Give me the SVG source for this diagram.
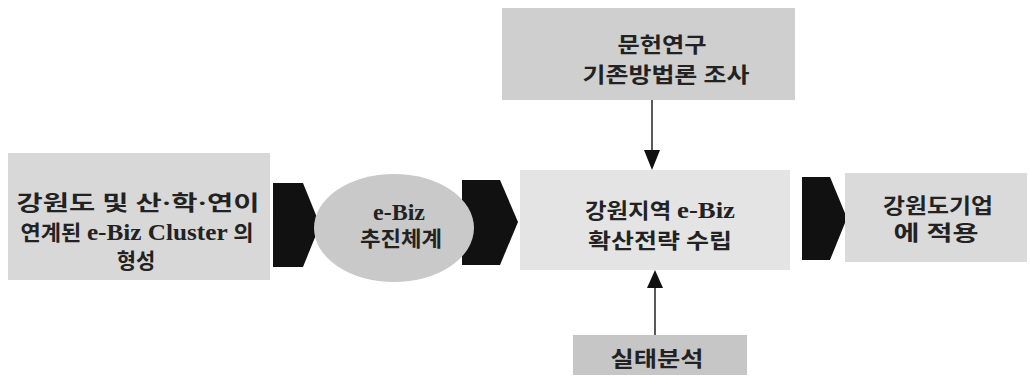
<svg xmlns="http://www.w3.org/2000/svg" width="1030" height="380" viewBox="0 0 1030 380">
<style>
.t{font-family:"Liberation Serif","Noto Sans CJK KR",serif;font-weight:bold;fill:#222;text-anchor:middle;font-size:21px}
.l{font-size:24px}
.c{fill:#111}
.ln{stroke:#222;stroke-width:1.5;fill:none}
</style>
<rect width="1030" height="380" fill="#fff"/>
<g id="connectors">
<polygon class="c" points="273,183 303,183 320,225 303,267 273,267"/>
<polygon class="c" points="462,180 500,180 518,222 500,265 462,265"/>
<polygon class="c" points="802,177 830,177 847,218 830,260 802,260"/>
<line class="ln" x1="652" y1="100" x2="652" y2="150"/>
<polygon class="c" points="644,150 660,150 652,170"/>
<line class="ln" x1="655" y1="335" x2="655" y2="288"/>
<polygon class="c" points="647,288 663,288 655,270"/>
</g>
<g id="cluster">
<rect x="8" y="153" width="262" height="127" fill="#d8d8d8"/>
<text class="t" x="138" y="210" textLength="243" lengthAdjust="spacingAndGlyphs">강원도 및 산·학·연이</text>
<text class="t" x="137" y="240" textLength="233" lengthAdjust="spacingAndGlyphs">연계된 <tspan class="l">e-Biz Cluster</tspan> 의</text>
<text class="t" x="136" y="268">형성</text>
</g>
<g id="ebiz">
<ellipse cx="394" cy="228" rx="80" ry="54" fill="#c9c9c9"/>
<text class="t l" x="399" y="220">e-Biz</text>
<text class="t" x="401" y="246" textLength="82" lengthAdjust="spacingAndGlyphs">추진체계</text>
</g>
<g id="research">
<rect x="502" y="8" width="293" height="92" fill="#cfcfcf"/>
<text class="t" x="662" y="52" textLength="89" lengthAdjust="spacingAndGlyphs">문헌연구</text>
<text class="t" x="666" y="82" textLength="167" lengthAdjust="spacingAndGlyphs">기존방법론 조사</text>
</g>
<g id="strategy">
<rect x="520" y="170" width="270" height="100" fill="#e4e4e4"/>
<text class="t" x="660" y="218" textLength="150" lengthAdjust="spacingAndGlyphs">강원지역 <tspan class="l">e-Biz</tspan></text>
<text class="t" x="660" y="248" textLength="144" lengthAdjust="spacingAndGlyphs">확산전략 수립</text>
</g>
<g id="analysis">
<rect x="573" y="335" width="174" height="40" fill="#c6c6c6"/>
<text class="t" x="657" y="366" textLength="93" lengthAdjust="spacingAndGlyphs">실태분석</text>
</g>
<g id="apply">
<rect x="845" y="173" width="182" height="89" fill="#dadada"/>
<text class="t" x="938" y="213" textLength="110" lengthAdjust="spacingAndGlyphs">강원도기업</text>
<text class="t" x="936" y="240" textLength="85" lengthAdjust="spacingAndGlyphs">에 적용</text>
</g>
</svg>
